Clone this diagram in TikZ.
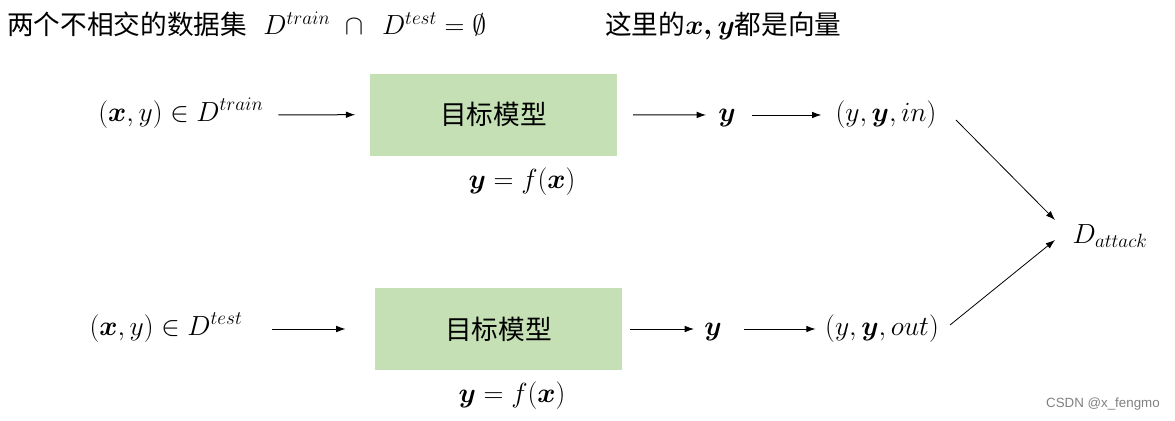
\documentclass[tikz,border=0pt]{standalone}
\usepackage{amsmath,amssymb}
\usepackage{fontspec}
\newfontfamily\cjk{Noto Sans CJK SC}
\newfontfamily\wmfont{Liberation Sans}
\usetikzlibrary{arrows.meta}
\definecolor{boxgreen}{HTML}{C5E0B4}
\begin{document}
\begin{tikzpicture}[x=0.75pt,y=-0.75pt,
  txt/.style={inner sep=0pt, font=\fontsize{20}{24}\selectfont, text height=14pt, text depth=5pt},
  modelbox/.style={fill=boxgreen, minimum width=185pt, minimum height=61.5pt, inner sep=0pt, font=\fontsize{20}{24}\selectfont\cjk},
  arr/.style={-{Latex[length=7pt,width=5pt]}, line width=0.75pt},
  head/.style={anchor=base west, inner sep=0pt, font=\fontsize{20}{24}\selectfont}]
\useasboundingbox (0,0) rectangle (1175,421);

% heading lines
\node[head] (title) at (7,35) {{\cjk 两个不相交的数据集}\ \ $D^{train}\ \cap\ \,D^{test}=\emptyset$};
\node[head] (note) at (605,35) {{\cjk 这里的}$\boldsymbol{x,y}${\cjk 都是向量}};

% top row
\node[txt] (in1) at (181,115) {$(\boldsymbol{x},y)\in D^{train}$};
\node[modelbox] (box1) at (493.5,114.5) {目标模型};
\node[txt] (f1) at (522,182) {$\boldsymbol{y}=f(\boldsymbol{x})$};
\node[txt] (yv1) at (727,115) {$\boldsymbol{y}$};
\node[txt] (yin) at (886,115) {$(y,\boldsymbol{y},in)$};

% bottom row
\node[txt] (in2) at (166,329) {$(\boldsymbol{x},y)\in D^{test}$};
\node[modelbox] (box2) at (498.5,329) {目标模型};
\node[txt] (f2) at (512,396) {$\boldsymbol{y}=f(\boldsymbol{x})$};
\node[txt] (yv2) at (713,329) {$\boldsymbol{y}$};
\node[txt] (yout) at (882,329) {$(y,\boldsymbol{y},out)$};

% attack set
\node[txt] (att) at (1110,237) {$D_{attack}$};

% arrows
\draw[arr, shorten <=11pt, shorten >=11pt] (in1) -- (box1);
\draw[arr, shorten <=12pt, shorten >=9pt] (box1) -- (yv1);
\draw[arr, shorten <=12pt, shorten >=10.5pt] (yv1) -- (yin);
\draw[arr, shorten <=22pt, shorten >=22pt] (in2) -- (box2);
\draw[arr, shorten <=6pt, shorten >=7.5pt] (box2) -- (yv2);
\draw[arr, shorten <=16.5pt, shorten >=7pt] (yv2) -- (yout);
\draw[arr, line width=0.6pt] ([shift={(70,5)}]yin.center) -- ([shift={(-55,-17)}]att.center);
\draw[arr, line width=0.6pt] ([shift={(68,-4)}]yout.center) -- ([shift={(-55,3)}]att.center);

% watermark
\node[anchor=east, inner sep=0pt, font=\wmfont\fontsize{10}{12}\selectfont, text=black!50] (wm) at (1160,404) {CSDN @x\_fengmo};
\end{tikzpicture}
\end{document}
